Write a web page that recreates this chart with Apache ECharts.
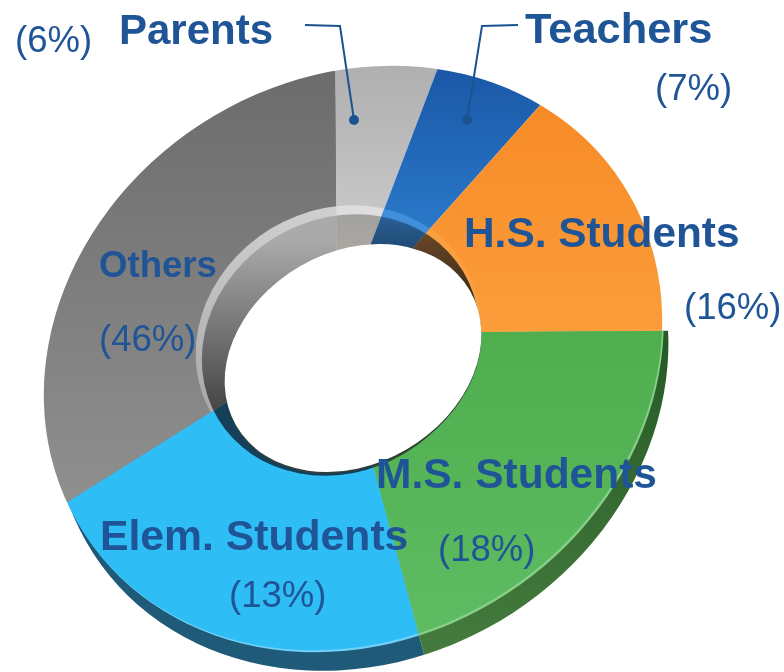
<!DOCTYPE html>
<html>
<head>
<meta charset="utf-8">
<title>Survey respondents</title>
<script src="https://cdn.jsdelivr.net/npm/echarts@6/dist/echarts.min.js"></script>
<style>
html, body { margin: 0; padding: 0; background: #fff; }
#stage { position: relative; width: 784px; height: 672px; overflow: hidden; }
#stage div.layer { position: absolute; left: 0; top: 0; width: 784px; height: 672px; }
</style>
</head>
<body>
<div id="stage"></div>
<script>
// clockwise from the top of the ring
var categories = ['Parents', 'Teachers', 'H.S. Students', 'M.S. Students', 'Elem. Students', 'Others'];
// percentages printed next to each name
var labelPercents = [6, 7, 16, 18, 13, 46];
// share of the ring each slice really takes up in the picture, it does not follow the printed numbers
var sliceShares = [5.9, 5.8, 13.3, 20.9, 20.3, 33.8];

var BLUE_TEXT = '#1f5496';

function vgrad(y1, y2, c1, c2) {
	return { type: 'linear', x: 0, y: y1, x2: 0, y2: y2, global: true,
		colorStops: [ { offset: 0, color: c1 }, { offset: 1, color: c2 } ] };
}

// rotated ellipse as svg path, for clip-path
function ellipsePath(cx, cy, rx, ry, rot) {
	var a = rot * Math.PI / 180;
	var dx = rx * Math.cos(a), dy = rx * Math.sin(a);
	return 'path("M' + (cx - dx) + ' ' + (cy - dy) +
		' A' + rx + ' ' + ry + ' ' + rot + ' 1 1 ' + (cx + dx) + ' ' + (cy + dy) +
		' A' + rx + ' ' + ry + ' ' + rot + ' 1 1 ' + (cx - dx) + ' ' + (cy - dy) + ' Z")';
}

function addLayer(clip) {
	var d = document.createElement('div');
	d.className = 'layer';
	if (clip) d.style.clipPath = clip;
	document.getElementById('stage').appendChild(d);
	return d;
}

// one layer of the fake 3d ring: same pie each time, only colours and clip change
function pieLayer(clip, colors) {
	var chart = echarts.init(addLayer(clip), null, { renderer: 'canvas' });
	var data = [];
	for (var i = 0; i < categories.length; i++) {
		data.push({ name: categories[i], value: sliceShares[i], itemStyle: { color: colors[i] } });
	}
	chart.setOption({
		animation: false,
		series: [ {
			type: 'pie',
			center: [ 337, 333 ],
			radius: [ 0, 520 ],
			startAngle: 90.4,
			silent: true,
			label: { show: false },
			labelLine: { show: false },
			data: data
		} ]
	});
}

// side wall
pieLayer(ellipsePath(361, 380, 319, 278, -33), [
	'transparent', 'transparent', 'transparent',
	vgrad(340, 660, '#265a26', '#457c3e'),
	'#1f5a78', vgrad(380, 560, '#444', '#2e4a55')
]);
// thin light edge along the lower right
pieLayer(ellipsePath(354.5, 360, 321, 279, -33), [
	'transparent', 'transparent', 'transparent', '#86cf88', '#6fd0f8', '#777'
]);
// top face
pieLayer(ellipsePath(353, 358, 321, 279, -33), [
	vgrad(70, 210, '#b0b0b0', '#c6c6c6'),
	vgrad(75, 230, '#1b59a8', '#2a78c9'),
	vgrad(110, 330, '#f78b27', '#fb9d3b'),
	vgrad(335, 620, '#4fae4d', '#5dbb62'),
	'#2fbdf5',
	vgrad(70, 500, '#6c6c6c', '#8f8f8f')
]);
// light rim round the inner edge
pieLayer(ellipsePath(338, 340, 146.5, 130, -31), [
	'#dedede', '#3f8fdb', '#f9a043', '#5cba60', '#2fbdf5', vgrad(205, 410, '#d0d0d0', '#a8a8a8')
]);
// inner wall
pieLayer(ellipsePath(340.5, 345, 143, 126, -31), [
	vgrad(210, 250, '#a0a0a0', '#aca6a0'),
	vgrad(215, 260, '#2a5f96', '#1c4468'),
	vgrad(225, 300, '#6e4a2a', '#3a2a18'),
	'#2b4a2b', '#14405a',
	vgrad(240, 440, '#aaaaaa', '#333333')
]);

// hole, with a hairline of shadow along its lower edge
var holeShadow = addLayer(ellipsePath(353, 359.5, 135, 106, -30));
holeShadow.style.background = '#33403a';
var hole = addLayer(ellipsePath(353, 358, 135, 106, -30));
hole.style.background = '#fff';

function label(text, x, y, size, bold) {
	return { type: 'text', silent: true, style: {
		text: text, x: x, y: y, fill: BLUE_TEXT, textVerticalAlign: 'middle',
		font: (bold ? 'bold ' : '') + size + 'px "Liberation Sans", Arial, sans-serif'
	} };
}
function pct(i) {
	return '(' + labelPercents[i] + '%)';
}
function leader(points, dot) {
	return [
		{ type: 'polyline', silent: true, shape: { points: points }, style: { stroke: '#1b5290', lineWidth: 2, fill: null } },
		{ type: 'circle', silent: true, shape: { cx: dot[0], cy: dot[1], r: 5 }, style: { fill: '#1b5290' } }
	];
}

var textChart = echarts.init(addLayer(null));
textChart.setOption({
	animation: false,
	graphic: leader([ [305, 25], [340, 26], [354, 120] ], [354, 120])
		.concat(leader([ [518, 25], [482, 26], [467, 120] ], [467, 120]))
		.concat([
			label(categories[0], 119, 32, 42, true),
			label(pct(0), 15, 42, 36.5, false),
			label(categories[1], 525, 31, 43.4, true),
			label(pct(1), 655, 90, 36.5, false),
			label(categories[2], 464, 235, 42.4, true),
			label(pct(2), 684, 309, 36.5, false),
			label(categories[3], 376, 476, 42.5, true),
			label(pct(3), 438, 551, 36.5, false),
			label(categories[4], 100, 538, 42.7, true),
			label(pct(4), 229, 597, 36.5, false),
			label(categories[5], 99, 267, 36.6, true),
			label(pct(5), 99, 341, 36.5, false)
		])
});
</script>
</body>
</html>
